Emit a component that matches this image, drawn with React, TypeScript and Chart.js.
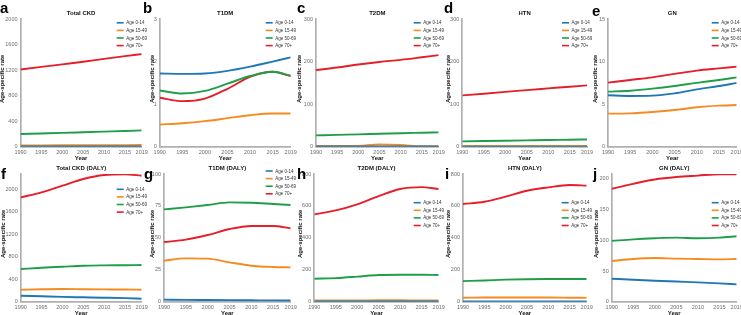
import React, { useEffect, useRef } from "react";
import { Chart, registerables } from "chart.js";

Chart.register(...registerables);

// ---------------- DATA ----------------
const years = [1990, 1995, 2000, 2005, 2010, 2015, 2019];
const xTickValues = [1990, 1995, 2000, 2005, 2010, 2015, 2019];
const ageGroups = ["Age 0-14", "Age 15-49", "Age 50-69", "Age 70+"];

const panelTitles = [
  "Total CKD",
  "T1DM",
  "T2DM",
  "HTN",
  "GN",
  "Total CKD (DALY)",
  "T1DM (DALY)",
  "T2DM (DALY)",
  "HTN (DALY)",
  "GN (DALY)",
];
const panelLetters = ["a", "b", "c", "d", "e", "f", "g", "h", "i", "j"];

// a Total CKD
const ckd014 = [4, 4, 4, 4, 4, 4, 4];
const ckd1549 = [20, 21, 22, 23, 24, 25, 26];
const ckd5069 = [198, 207, 216, 226, 236, 246, 255];
const ckd70 = [1210, 1250, 1290, 1330, 1375, 1418, 1450];
// b T1DM
const t1014 = [1.72, 1.71, 1.72, 1.78, 1.88, 2.0, 2.1];
const t11549 = [0.52, 0.55, 0.6, 0.67, 0.74, 0.78, 0.78];
const t15069 = [1.32, 1.25, 1.31, 1.48, 1.66, 1.76, 1.67];
const t170 = [1.15, 1.07, 1.13, 1.36, 1.64, 1.76, 1.66];
// c T2DM
const t2014 = [0.5, 0.5, 0.5, 0.5, 0.5, 0.5, 0.5];
const t21549 = [1.5, 1.5, 2, 5, 4, 1, 1];
const t25069 = [26.5, 27.8, 29, 30.4, 31.7, 32.8, 33.7];
const t270 = [180, 186, 193, 199, 204, 210, 215];
// d HTN
const htn014 = [0.2, 0.2, 0.2, 0.2, 0.2, 0.2, 0.2];
const htn1549 = [2, 2, 2, 2, 2, 2, 2];
const htn5069 = [12.5, 13.3, 14.1, 14.9, 15.7, 16.4, 17];
const htn70 = [120.5, 124.5, 128.7, 133, 137, 141, 144];
// e GN
const gn014 = [6.04, 5.96, 6.0, 6.27, 6.74, 7.13, 7.49];
const gn1549 = [3.88, 3.92, 4.08, 4.31, 4.63, 4.82, 4.9];
const gn5069 = [6.47, 6.58, 6.82, 7.13, 7.5, 7.84, 8.15];
const gn70 = [7.52, 7.84, 8.15, 8.55, 8.94, 9.2, 9.4];
// f Total CKD (DALY)
const ckdD014 = [107, 96, 85, 78, 71, 63, 53];
const ckdD1549 = [213, 220, 225, 222, 219, 216, 213];
const ckdD5069 = [581, 604, 622, 640, 646, 648, 652];
const ckdD70 = [1855, 1944, 2062, 2181, 2252, 2264, 2240];
// g T1DM (DALY)
const t1D014 = [1.6, 1.4, 1.3, 1.2, 1.1, 1.0, 0.9];
const t1D1549 = [32.1, 33.9, 33.7, 30.8, 28.2, 27.2, 26.9];
const t1D5069 = [72.3, 73.9, 75.7, 77.8, 77.5, 76.5, 75.7];
const t1D70 = [46.7, 48.6, 52.2, 56.9, 59.3, 59.3, 57.4];
// h T2DM (DALY)
const t2D014 = [1, 1, 1, 1, 1, 1, 1];
const t2D1549 = [8, 8, 8, 9, 9, 8, 8];
const t2D5069 = [144, 148, 157, 167, 169, 169, 167];
const t2D70 = [547, 572, 610, 662, 706, 718, 706];
// i HTN (DALY)
const htnD014 = [1.5, 1.5, 1.5, 1.5, 1.5, 1.5, 1.5];
const htnD1549 = [25, 26, 26, 26, 26, 25, 24];
const htnD5069 = [129, 133, 138, 141, 142, 142, 142];
const htnD70 = [612, 626, 658, 695, 716, 731, 727];
// j GN (DALY)
const gnD014 = [37.5, 35.8, 34.2, 32.8, 31.5, 29.9, 28.3];
const gnD1549 = [66.3, 69.6, 71.2, 70.1, 69.6, 69, 69.6];
const gnD5069 = [99, 101.6, 103.3, 104.3, 103.3, 104.3, 106.5];
const gnD70 = [184, 192, 199, 203, 205.4, 207.6, 207.6];

const panelSeries = [
  [ckd014, ckd1549, ckd5069, ckd70],
  [t1014, t11549, t15069, t170],
  [t2014, t21549, t25069, t270],
  [htn014, htn1549, htn5069, htn70],
  [gn014, gn1549, gn5069, gn70],
  [ckdD014, ckdD1549, ckdD5069, ckdD70],
  [t1D014, t1D1549, t1D5069, t1D70],
  [t2D014, t2D1549, t2D5069, t2D70],
  [htnD014, htnD1549, htnD5069, htnD70],
  [gnD014, gnD1549, gnD5069, gnD70],
];

const yTickSets = [
  [0, 400, 800, 1200, 1600, 2000],
  [0, 1, 2, 3],
  [0, 100, 200, 300],
  [0, 100, 200, 300],
  [0, 5, 10, 15],
  [0, 400, 800, 1200, 1600, 2000],
  [0, 25, 50, 75, 100],
  [0, 200, 400, 600, 800],
  [0, 200, 400, 600, 800],
  [0, 50, 100, 150, 200],
];
const yMaxes = [2000, 3, 300, 300, 15, 2270, 100, 800, 800, 208];

// ---------------- STYLE / LAYOUT ----------------
const seriesColors = ["#1f78b4", "#f58a20", "#1f9e4a", "#e41f2a"];
const FONT = '"Liberation Sans", Arial, Helvetica, sans-serif';
const axisColor = "#b0b0b0";
const tickColor = "#6e6e6e";

const plotL = [20.5, 159.7, 316, 462.3, 608, 20.7, 164, 314.3, 463, 611.7];
const plotR = [141.7, 290.7, 438.7, 587, 736.7, 141.7, 290.7, 438.7, 586.7, 736.7];
const rowTop = [0, 155];
const PLOT_TOP = 19;
const PLOT_H = 127.7;
const CANVAS_H = 162;
const yTitleX = [2.7, 152, 299.3, 448, 595.7, 3.3, 152.7, 300, 448.7, 596.3];
const legendOff = [3.8, 3.8, 3.8, 3.8, 3.8, 15.3, -3, 28.7, 28.7, 28.7];
const letterPos: [number, number][] = [
  [0, 12.5],
  [143, 12.5],
  [297, 12.5],
  [444, 13],
  [592, 16],
  [1, 178.5],
  [144, 178.5],
  [297, 178.5],
  [445, 178.5],
  [593, 178.5],
];

const decoPlugin = {
  id: "panelDeco",
  afterDraw(chart: any, _args: any, opts: any) {
    const ctx = chart.ctx as CanvasRenderingContext2D;
    const ca = chart.chartArea;
    const midX = (ca.left + ca.right) / 2;
    ctx.save();
    ctx.fillStyle = "#111";
    ctx.textAlign = "center";
    ctx.textBaseline = "middle";
    ctx.font = `bold 6px ${FONT}`;
    ctx.fillText(opts.title, midX, ca.top - 5.7);
    ctx.fillText("Year", midX, ca.bottom + 11.6);
    ctx.save();
    ctx.translate(opts.yTitleX, (ca.top + ca.bottom) / 2 - 4);
    ctx.rotate(-Math.PI / 2);
    ctx.fillText("Age-specific rate", 0, 0);
    ctx.restore();
    // legend
    ctx.font = `4.5px ${FONT}`;
    ctx.textAlign = "left";
    chart.data.datasets.forEach((ds: any, i: number) => {
      const y = ca.top + opts.legendOff + i * 7.6;
      ctx.strokeStyle = ds.borderColor;
      ctx.lineWidth = 1.6;
      ctx.beginPath();
      ctx.moveTo(ca.right - 25, y);
      ctx.lineTo(ca.right - 18, y);
      ctx.stroke();
      ctx.fillStyle = "#333";
      ctx.fillText(ds.label, ca.right - 15.5, y + 0.3);
    });
    ctx.restore();
  },
};

function Panel({ idx }: { idx: number }) {
  const ref = useRef<HTMLCanvasElement>(null);
  const row = idx < 5 ? 0 : 1;
  const L = plotL[idx];
  const R = plotR[idx];
  const cLeft = Math.floor(L) - 22;
  const cTop = rowTop[row];
  const cW = Math.ceil(R) + 12 - cLeft;
  const cH = CANVAS_H;

  useEffect(() => {
    const yWidth = L - cLeft;
    const rightPad = cLeft + cW - R;
    const xHeight = cH - PLOT_TOP - PLOT_H;
    const series = panelSeries[idx];
    const chart = new Chart(ref.current as HTMLCanvasElement, {
      type: "line",
      data: {
        datasets: series.map((s, k) => ({
          label: ageGroups[k],
          data: years.map((yr, i) => ({ x: yr, y: s[i] })),
          borderColor: seriesColors[k],
          backgroundColor: seriesColors[k],
          borderWidth: 1.9,
          pointRadius: 0,
          cubicInterpolationMode: "monotone",
          fill: false,
        })),
      },
      options: {
        responsive: false,
        animation: false,
        devicePixelRatio: 1,
        events: [],
        layout: { padding: { left: 0, top: PLOT_TOP, right: rightPad, bottom: 0 } },
        plugins: {
          legend: { display: false },
          tooltip: { enabled: false },
          title: { display: false },
          panelDeco: {
            title: panelTitles[idx],
            yTitleX: yTitleX[idx] - cLeft,
            legendOff: legendOff[idx],
          },
        } as any,
        scales: {
          x: {
            type: "linear",
            min: 1990,
            max: 2019,
            grid: { display: false, drawTicks: false },
            border: { display: true, color: axisColor, width: 1.7 },
            ticks: {
              autoSkip: false,
              maxRotation: 0,
              padding: 2,
              color: tickColor,
              font: { size: 5.5, family: FONT },
              callback: (v: any) => String(v),
            },
            afterBuildTicks: (s: any) => {
              s.ticks = xTickValues.map((v) => ({ value: v }));
            },
            afterFit: (s: any) => {
              s.height = xHeight;
            },
          },
          y: {
            type: "linear",
            min: 0,
            max: yMaxes[idx],
            grid: { display: false, drawTicks: false },
            border: { display: true, color: axisColor, width: 1.7 },
            ticks: {
              padding: 3,
              color: tickColor,
              font: { size: 5.5, family: FONT },
              callback: (v: any) => String(v),
            },
            afterBuildTicks: (s: any) => {
              s.ticks = yTickSets[idx].map((v) => ({ value: v }));
            },
            afterFit: (s: any) => {
              s.width = yWidth;
            },
          },
        },
      } as any,
      plugins: [decoPlugin],
    });
    return () => chart.destroy();
  }, []);

  return (
    <canvas
      ref={ref}
      width={cW}
      height={cH}
      style={{ position: "absolute", left: cLeft, top: cTop, width: cW, height: cH }}
    />
  );
}

export default function App() {
  return (
    <div
      style={{
        position: "absolute",
        left: 0,
        top: 0,
        width: 741,
        height: 315,
        overflow: "hidden",
        background: "#fff",
      }}
    >
      {panelTitles.map((_, i) => (
        <Panel key={i} idx={i} />
      ))}
      {panelLetters.map((l, i) => (
        <div
          key={"l" + i}
          style={{
            position: "absolute",
            left: letterPos[i][0],
            top: letterPos[i][1] - 12.7,
            fontFamily: FONT,
            fontWeight: "bold",
            fontSize: 15,
            lineHeight: "15px",
            color: "#000",
          }}
        >
          {l}
        </div>
      ))}
    </div>
  );
}
